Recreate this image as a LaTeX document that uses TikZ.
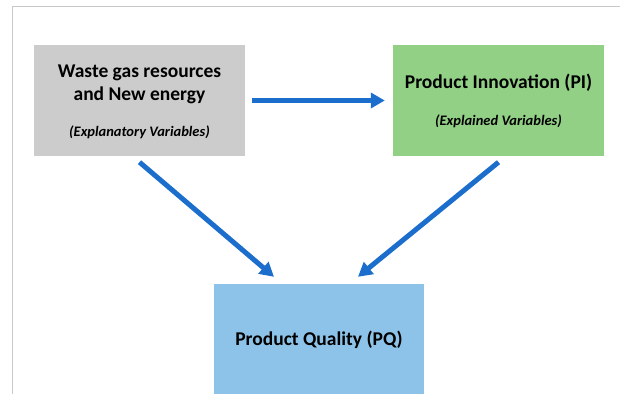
\documentclass[tikz,border=0pt]{standalone}
\usepackage{fontspec}
\setmainfont{Carlito}
\usetikzlibrary{arrows.meta,positioning}
\definecolor{boxgray}{RGB}{204,204,204}
\definecolor{boxgreen}{RGB}{146,208,134}
\definecolor{boxblue}{RGB}{141,195,232}
\definecolor{flowblue}{RGB}{28,110,204}
\definecolor{framegray}{RGB}{200,200,200}

\begin{document}
\begin{tikzpicture}[x=1pt, y=1pt, every node/.style={inner sep=0pt, font=\bfseries\fontsize{19.5}{23}\selectfont, align=center}, box/.style={minimum width=211pt, minimum height=111pt}, note/.style={font=\bfseries\itshape\fontsize{14.5}{17}\selectfont}, flow/.style={-{Triangle[length=14pt,width=15pt]}, line width=5pt, flowblue}]
    \useasboundingbox (0, 0) rectangle (620, 394);
    \draw[framegray, line width=1pt] (12, 0) -- (12, 387) -- (620, 387);

    \node[box, fill=boxgray] (waste) at (139.5, 293.5) {};
    \node[box, fill=boxgreen] (innov) at (498.5, 293.5) {};
    \node[box, fill=boxblue, minimum width=210pt, minimum height=110pt] (quality) at (319, 55) {};

    \node (waste_title) at (139.5, 309.5) {Waste gas resources\\and New energy};
    \node[note] (waste_note) at (139.5, 262) {(Explanatory Variables)};
    \node (innov_title) at (498.5, 311) {Product Innovation (PI)};
    \node[note] (innov_note) at (498.5, 273) {(Explained Variables)};
    \node (quality_title) at (319, 54) {Product Quality (PQ)};

    \draw[flow, shorten <=7pt, shorten >=8pt] (waste.east) -- (innov.west);
    \draw[flow] ([yshift=-6pt]waste.south) -- ([xshift=-45pt, yshift=7pt]quality.north);
    \draw[flow] ([yshift=-6pt]innov.south) -- ([xshift=39pt, yshift=7pt]quality.north);
\end{tikzpicture}
\end{document}
